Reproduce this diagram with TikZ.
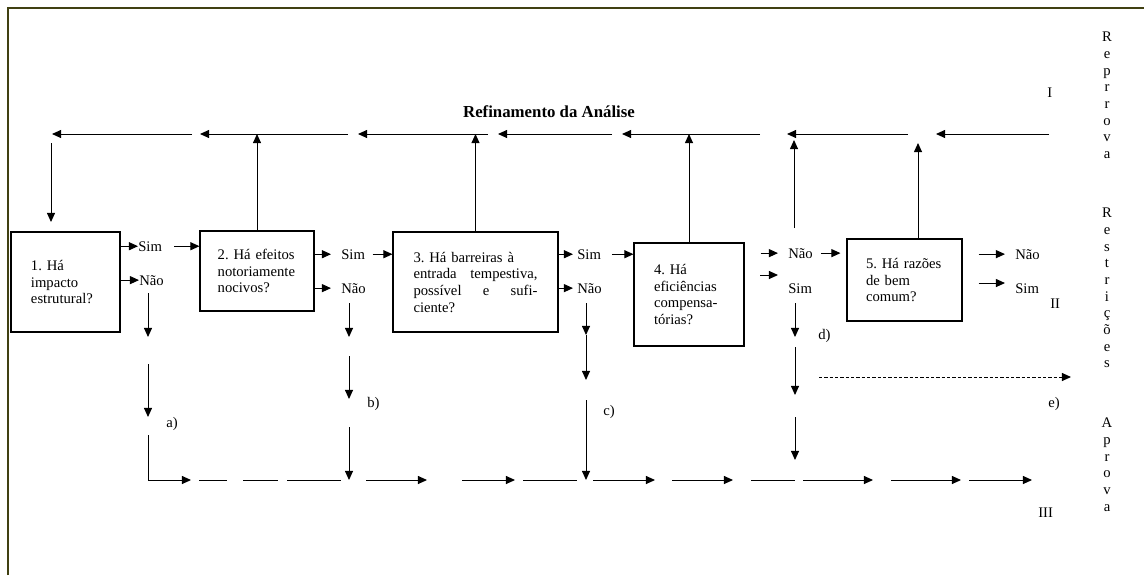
\documentclass[tikz,border=0pt]{standalone}
\usepackage{fontspec}
\setmainfont{Liberation Serif}
\usetikzlibrary{arrows.meta}
\tikzset{>={Triangle[length=6.8pt,width=6pt]}}
\definecolor{moldura}{HTML}{404012}
\tikzset{
  caixa/.style={draw,line width=0.8pt,inner sep=0pt,align=left},
  rotulo/.style={inner sep=0pt,anchor=base west},
  conector/.style={line width=0.75pt},
  vertical/.style={inner sep=0pt,anchor=north,align=center},
}

\begin{document}
\begin{tikzpicture}[x=0.75pt,y=-0.75pt,font=\fontsize{11}{12.5}\selectfont\frenchspacing]
\useasboundingbox (0,0) rectangle (1144,575);
% moldura
\draw[moldura,line width=1.5pt] (8,575) -- (8,8) -- (1144,8);

\node[inner sep=0pt,anchor=base,font=\bfseries\fontsize{12.6}{14}\selectfont] (titulo) at (549,117) {Refinamento da Análise};

% as cinco perguntas
\node[caixa,minimum width=81.75pt,minimum height=75pt,text width=51.75pt] (q1) at (65.5,282) {1. Há\\ impacto\\ estrutural?};
\node[caixa,minimum width=85.5pt,minimum height=60pt,text width=59pt] (q2) at (257,271) {2. Há efeitos\\ notoriamente\\ nocivos?};
\node[caixa,minimum width=123.75pt,minimum height=75pt,text width=93pt] (q3) at (475.5,282) {3. Há barreiras à\\ entrada\hfill tempestiva,\\ possível\hfill e\hfill sufi-\\ ciente?};
\node[caixa,minimum width=82.5pt,minimum height=77.25pt,text width=52.5pt] (q4) at (689,294.5) {4. Há\\ eficiências\\ compensa-\\ tórias?};
\node[caixa,minimum width=86.25pt,minimum height=61.5pt,text width=57.75pt] (q5) at (904.5,280) {5. Há razões\\ de bem\\ comum?};

% respostas
\node[rotulo] (sim1) at (138,251) {Sim};
\node[rotulo] (nao1) at (139,285) {Não};
\node[rotulo] (sim2) at (341,259) {Sim};
\node[rotulo] (nao2) at (341,293) {Não};
\node[rotulo] (sim3) at (577,259) {Sim};
\node[rotulo] (nao3) at (577,293) {Não};
\node[rotulo] (nao4) at (788,258) {Não};
\node[rotulo] (sim4) at (788,293) {Sim};
\node[rotulo] (nao5) at (1015,259) {Não};
\node[rotulo] (sim5) at (1015,293) {Sim};

\node[rotulo] (la) at (166,427) {a)};
\node[rotulo] (lb) at (367,407) {b)};
\node[rotulo] (lc) at (603,415) {c)};
\node[rotulo] (ld) at (818,339) {d)};
\node[rotulo] (le) at (1048,407) {e)};

\node[rotulo] (r1) at (1047,97) {I};
\node[rotulo] (r2) at (1050,308) {II};
\node[rotulo] (r3) at (1038,517) {III};

\node[vertical] (reprova) at (1107,32) {R\\e\\p\\r\\r\\o\\v\\a};
\node[vertical] (restricoes) at (1107,208) {R\\e\\s\\t\\r\\i\\ç\\õ\\e\\s};
\node[vertical] (aprova) at (1107,418) {A\\p\\r\\o\\v\\a};

% linha do refinamento
\foreach \a/\b [count=\i] in {52/192,200/348,358/488,498/612,622/760,787/908,936/1049}{
  \coordinate (ra\i) at (\a,134);
  \coordinate (rb\i) at (\b,134);
  \draw[conector,->] (rb\i) -- (ra\i);
}
\coordinate (volta) at (51,143);
\draw[conector,->] (volta) -- (volta |- 0,222);
\draw[conector,->] (q2.north) -- (q2.north |- ra2);
\draw[conector,->] (q3.north) -- (q3.north |- ra3);
\draw[conector,->] (q4.north) -- (q4.north |- ra4);
\coordinate (sobe4) at (794,228);
\draw[conector,->] (sobe4) -- (sobe4 |- 0,140);
\coordinate (sobe5) at (918,239);
\draw[conector,->] (sobe5) -- (sobe5 |- 0,143);

% saidas das caixas
\draw[conector,->] (q1.east |- sim1.west) -- (sim1.west);
\draw[conector,->] (q1.east |- nao1.west) -- (nao1.west);
\draw[conector,->,shorten <=9pt] (sim1.east) -- (sim1.east -| q2.west);
\draw[conector,->,shorten >=7.5pt] (q2.east |- sim2.west) -- (sim2.west);
\draw[conector,->,shorten >=7.5pt] (q2.east |- nao2.west) -- (nao2.west);
\draw[conector,->,shorten <=5.5pt] (sim2.east) -- (sim2.east -| q3.west);
\draw[conector,->,shorten >=3pt] (q3.east |- sim3.west) -- (sim3.west);
\draw[conector,->,shorten >=3pt] (q3.east |- nao3.west) -- (nao3.west);
\draw[conector,->,shorten <=8pt] (sim3.east) -- (sim3.east -| q4.west);
\draw[conector,->,shorten <=12pt,shorten >=7.5pt] (q4.east |- nao4.west) -- (nao4.west);
\coordinate (c4) at (760,275);
\coordinate (d4) at (778,275);
\draw[conector,->] (c4) -- (d4);
\draw[conector,->,shorten <=6pt,shorten >=4.5pt] (nao4.east) -- (nao4.east -| q5.west);
\draw[conector,->,shorten <=12pt,shorten >=7.5pt] (q5.east |- nao5.west) -- (nao5.west);
\draw[conector,->,shorten <=12pt,shorten >=7.5pt] (q5.east |- sim5.north) -- (sim5.north west);

% descidas a) b) c) d)
\foreach \x/\a/\b [count=\i] in {148/293/337,148/364/417,349/303/337,349/356/399,349/427/480,586/303/335,586/335/380,586/400/480,795/303/337,795/347/395,795/417/460}{
  \coordinate (va\i) at (\x,\a);
  \coordinate (vb\i) at (\x,\b);
  \draw[conector,->] (va\i) -- (vb\i);
}
\coordinate (canto) at (148,435);
\draw[conector,->] (canto) -- (canto |- 0,480) -- (191,480);

% linha de aprovacao
\foreach \a/\b/\t [count=\i] in {199/227/-,243/278/-,287/341/-,366/427/->,462/515/->,523/577/-,593/655/->,672/733/->,751/795/-,803/873/->,891/961/->,969/1032/->}{
  \coordinate (ba\i) at (\a,480);
  \coordinate (bb\i) at (\b,480);
  \draw[conector,\t] (ba\i) -- (bb\i);
}

% restricoes e)
\coordinate (ea) at (819,377);
\coordinate (eb) at (1071,377);
\draw[conector,->,dash pattern=on 2.5pt off 1.5pt] (ea) -- (eb);
\end{tikzpicture}
\end{document}
